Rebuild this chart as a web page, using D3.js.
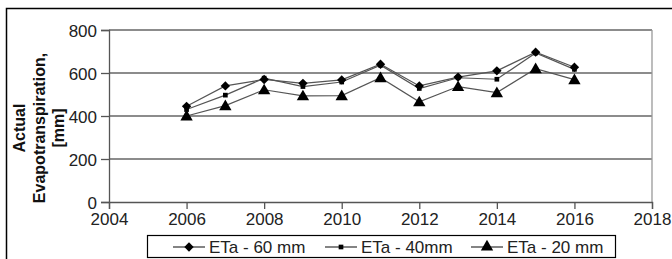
<!DOCTYPE html>
<html><head><meta charset="utf-8">
<script src="https://cdn.jsdelivr.net/npm/d3@7"></script>
<style>body{margin:0;background:#fff}svg{display:block;font-family:"Liberation Sans",Arial,sans-serif}</style>
</head><body><svg id="c" width="672" height="259"></svg>
<script>
const years = [2006,2007,2008,2009,2010,2011,2012,2013,2014,2015,2016];
const eta60 = [445,540,570,552,568,641,540,581,610,697,627];
const eta40 = [430,497,576,537,558,636,528,578,571,693,617];
const eta20 = [400,448,522,494,495,578,466,537,509,620,569];
const seriesNames = ["ETa - 60 mm","ETa - 40mm","ETa - 20 mm"];
const xTicks = [2004,2006,2008,2010,2012,2014,2016,2018];
const yTicks = [0,200,400,600,800];

const svg = d3.select("#c");
svg.append("rect").attr("x",6.5).attr("y",8.5).attr("width",680).attr("height",270)
  .attr("fill","none").attr("stroke","#000").attr("stroke-width",1.5);

const x = d3.scaleLinear().domain([2004,2018]).range([109,652]);
const y = d3.scaleLinear().domain([0,800]).range([202,30]);

svg.append("g").selectAll("line").data(yTicks.filter(d=>d>0)).join("line")
  .attr("x1",109).attr("x2",652).attr("y1",d=>y(d)).attr("y2",d=>y(d))
  .attr("stroke","#666").attr("stroke-width",1.3);
svg.append("line").attr("x1",652).attr("x2",652).attr("y1",30).attr("y2",202)
  .attr("stroke","#999").attr("stroke-width",1.3);

const yAxis = svg.append("g").attr("transform","translate(109,0)")
  .call(d3.axisLeft(y).tickValues(yTicks).tickSize(8).tickPadding(4).tickFormat(d3.format("d")));
const xAxis = svg.append("g").attr("transform","translate(0,202)")
  .call(d3.axisBottom(x).tickValues(xTicks).tickSize(7).tickPadding(4).tickFormat(d3.format("d")));
[yAxis,xAxis].forEach(a=>{
  a.select(".domain").attr("stroke","#555").attr("stroke-width",1.3);
  a.selectAll(".tick line").attr("stroke","#555").attr("stroke-width",1.3);
  a.selectAll("text").attr("font-size",17).attr("fill","#222").attr("font-family","Liberation Sans, Arial, sans-serif");
});
yAxis.selectAll("text").attr("dy","0.36em");

const tl = ["Actual","Evapotranspiration,","[mm]"];
const tg = svg.append("g").attr("transform","translate(39,128) rotate(-90)");
tg.selectAll("text").data(tl).join("text")
  .attr("x",0).attr("y",(d,i)=>(i-1)*19.5).attr("dy","0.35em").attr("text-anchor","middle")
  .attr("font-weight","bold").attr("font-size",16).attr("fill","#111").text(d=>d);

const diamond = {draw(ctx,size){const r=Math.sqrt(size/2);ctx.moveTo(0,-r);ctx.lineTo(r,0);ctx.lineTo(0,r);ctx.lineTo(-r,0);ctx.closePath();}};
const sym = [diamond, d3.symbolSquare, d3.symbolTriangle];
const symSize = [44, 22, 66];
const data = [eta60,eta40,eta20];
const line = d3.line().x((d,i)=>x(years[i])).y(d=>y(d));
data.forEach((s,k)=>{
  svg.append("path").attr("d",line(s)).attr("fill","none").attr("stroke","#555").attr("stroke-width",1.2);
});
data.forEach((s,k)=>{
  svg.append("g").selectAll("path").data(s).join("path")
    .attr("transform",(d,i)=>`translate(${x(years[i])},${y(d)+(k==2?1:0)})`)
    .attr("d",d3.symbol(sym[k],symSize[k])).attr("fill","#000");
});

svg.append("rect").attr("x",147.5).attr("y",235.5).attr("width",468).attr("height",22)
  .attr("fill","#fff").attr("stroke","#000").attr("stroke-width",1.2);
const lx = [173,325,471];
seriesNames.forEach((n,k)=>{
  const g = svg.append("g").attr("transform",`translate(${lx[k]},247)`);
  g.append("line").attr("x1",0).attr("x2",32).attr("stroke","#333").attr("stroke-width",1.2);
  g.append("path").attr("transform","translate(16,0)").attr("d",d3.symbol(sym[k],symSize[k])).attr("fill","#000");
  g.append("text").attr("x",36).attr("dy","0.36em").attr("font-size",17).attr("fill","#222").text(n);
});
</script></body></html>
